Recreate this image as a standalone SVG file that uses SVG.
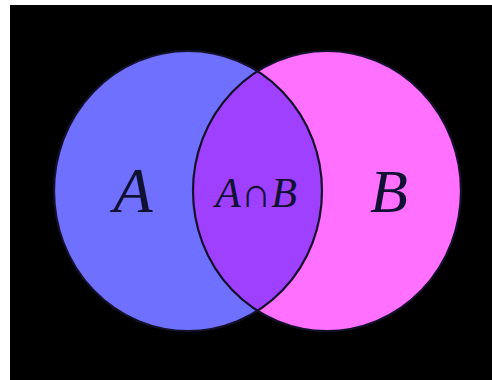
<svg xmlns="http://www.w3.org/2000/svg" width="492" height="380" viewBox="0 0 492 380">
<style>
.lbl{font-family:"Liberation Serif","DejaVu Serif",serif;font-style:italic;fill:#111133;text-anchor:middle}
.edge{fill:none;stroke:#14102a;stroke-width:2.2}
</style>
<defs>
<clipPath id="clipB"><ellipse cx="327" cy="191" rx="134" ry="140"/></clipPath>
</defs>
<rect x="0" y="0" width="492" height="380" fill="#ffffff"/>
<rect x="10" y="5" width="482" height="375" fill="#000000"/>
<g id="setA">
<ellipse cx="188" cy="191" rx="134" ry="140" fill="#7070ff"/>
<text class="lbl" x="133" y="212" font-size="64">A</text>
</g>
<g id="setB">
<ellipse cx="327" cy="191" rx="134" ry="140" fill="#ff70ff"/>
<text class="lbl" x="389" y="212" font-size="62">B</text>
</g>
<g id="intersection">
<ellipse cx="188" cy="191" rx="134" ry="140" fill="#a040ff" clip-path="url(#clipB)"/>
<text class="lbl" x="256" y="207" font-size="42">A∩B</text>
</g>
<g id="connectors">
<ellipse class="edge" cx="188" cy="191" rx="134" ry="140"/>
<ellipse class="edge" cx="327" cy="191" rx="134" ry="140"/>
</g>
</svg>
